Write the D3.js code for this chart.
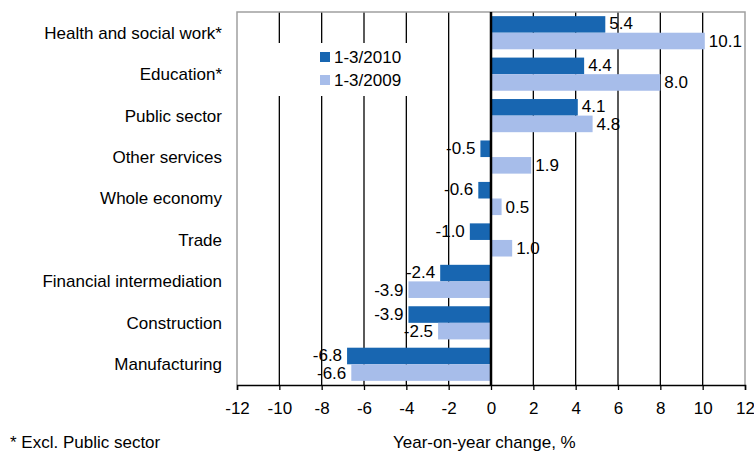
<!DOCTYPE html>
<html>
<head>
<meta charset="utf-8">
<title>Year-on-year change</title>
<script src="https://cdn.jsdelivr.net/npm/d3@7"></script>
<style>
body { margin:0; background:#fff; }
svg text { font-family: "Liberation Sans", Arial, sans-serif; font-size:17px; fill:#000; }
</style>
</head>
<body>
<svg id="chart" width="754" height="452"></svg>
<script>
// data
var categories = ["Health and social work*", "Education*", "Public sector", "Other services",
  "Whole economy", "Trade", "Financial intermediation", "Construction", "Manufacturing"];
var seriesNames = ["1-3/2010", "1-3/2009"];
var values2010 = [5.4, 4.4, 4.1, -0.5, -0.6, -1.0, -2.4, -3.9, -6.8];
var values2009 = [10.1, 8.0, 4.8, 1.9, 0.5, 1.0, -3.9, -2.5, -6.6];
var xTicks = [-12, -10, -8, -6, -4, -2, 0, 2, 4, 6, 8, 10, 12];
var colors = ["#1866b1", "#a7bdea"];

var svg = d3.select("#chart");
var plotLeft = 237, plotRight = 745, plotTop = 12, plotBottom = 385;

var x = d3.scaleLinear().domain([-12, 12]).range([plotLeft, plotRight]);
var y = d3.scaleBand().domain(categories).range([plotTop, plotBottom]).paddingInner(0.2).paddingOuter(0.1);
var ySub = d3.scaleBand().domain(seriesNames).range([0, y.bandwidth()]);

var rows = categories.map(function(c, i) {
  return { cat: c, vals: [values2010[i], values2009[i]] };
});

// grid lines
svg.append("g").selectAll("line")
  .data(xTicks.filter(function(t) { return t > -12 && t < 12 && t !== 0; }))
  .enter().append("line")
  .attr("x1", function(d) { return x(d); }).attr("x2", function(d) { return x(d); })
  .attr("y1", plotTop).attr("y2", plotBottom)
  .attr("stroke", "#000").attr("stroke-width", 1.3);

// frame (left, top, right)
svg.append("path")
  .attr("d", "M" + plotLeft + "," + plotBottom + "V" + plotTop + "H" + plotRight + "V" + plotBottom)
  .attr("fill", "none").attr("stroke", "#a0a0a0").attr("stroke-width", 1.5);

// legend background hides the grid lines behind it
var legend = svg.append("g");
legend.append("rect").attr("x", 268).attr("y", 43).attr("width", 150).attr("height", 53).attr("fill", "#fff");
seriesNames.forEach(function(s, i) {
  var ly = 57 + i * 23;
  legend.append("rect").attr("x", 320).attr("y", ly - 5).attr("width", 10).attr("height", 10).attr("fill", colors[i]);
  legend.append("text").attr("x", 334).attr("y", ly).attr("dy", "0.35em").text(s);
});

// bars
var groups = svg.append("g").selectAll("g").data(rows).enter().append("g")
  .attr("transform", function(d) { return "translate(0," + y(d.cat) + ")"; });

groups.selectAll("rect").data(function(d) { return d.vals; }).enter().append("rect")
  .attr("x", function(v) { return x(Math.min(0, v)); })
  .attr("width", function(v) { return Math.abs(x(v) - x(0)); })
  .attr("y", function(v, i) { return ySub(seriesNames[i]); })
  .attr("height", ySub.bandwidth())
  .attr("fill", function(v, i) { return colors[i]; });

groups.selectAll("text").data(function(d) { return d.vals; }).enter().append("text")
  .attr("x", function(v) { return v >= 0 ? x(v) + 4 : x(v) - 5; })
  .attr("y", function(v, i) { return ySub(seriesNames[i]) + ySub.bandwidth() / 2 - (i === 0 ? 1 : 0); })
  .attr("dy", "0.35em")
  .attr("text-anchor", function(v) { return v >= 0 ? "start" : "end"; })
  .text(function(v) { return v.toFixed(1); });

// zero line
svg.append("line").attr("x1", x(0)).attr("x2", x(0)).attr("y1", plotTop).attr("y2", plotBottom)
  .attr("stroke", "#000").attr("stroke-width", 2.5);

// category labels
svg.append("g").selectAll("text").data(categories).enter().append("text")
  .attr("x", 222).attr("y", function(d) { return y(d) + y.bandwidth() / 2; })
  .attr("dy", "0.35em").attr("text-anchor", "end").text(function(d) { return d; });

// x axis
var xAxis = svg.append("g").attr("transform", "translate(0," + plotBottom + ")")
  .call(d3.axisBottom(x).tickValues(xTicks).tickSize(5).tickPadding(12)
    .tickFormat(function(d) { return String(d); }));
xAxis.select(".domain").attr("stroke", "#000").attr("stroke-width", 1.5);
xAxis.selectAll(".tick line").attr("stroke", "#000").attr("stroke-width", 1.3);
xAxis.selectAll("text").attr("font-size", null).attr("font-family", null).attr("fill", "#000");

// footnote and axis title
svg.append("text").attr("x", 10).attr("y", 442).attr("dy", "0.35em").text("* Excl. Public sector");
svg.append("text").attr("x", 393).attr("y", 442).attr("dy", "0.35em").text("Year-on-year change, %");
</script>
</body>
</html>
